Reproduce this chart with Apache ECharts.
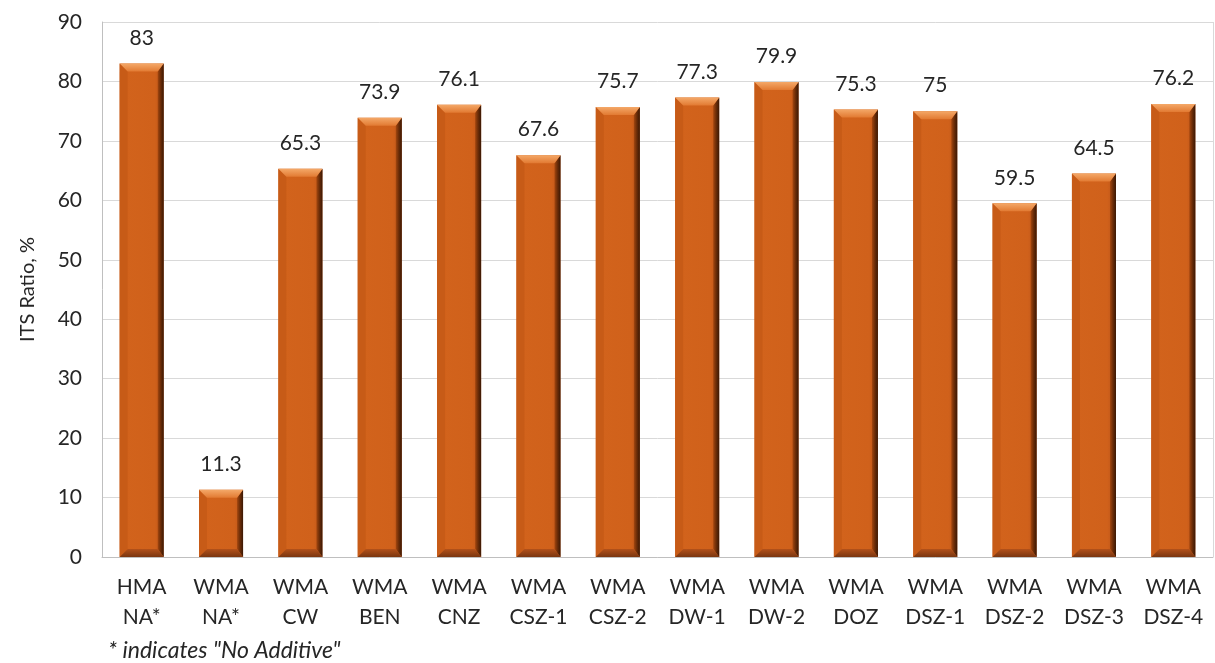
<!DOCTYPE html>
<html>
<head>
<meta charset="utf-8">
<script src="https://cdn.jsdelivr.net/npm/echarts@6/dist/echarts.min.js"></script>
<style>
  html, body { margin: 0; padding: 0; background: #ffffff; }
  #chart { width: 1215px; height: 663px; }
</style>
</head>
<body>
<div id="chart"></div>
<script>
// Mix categories and ITS ratio values
const categories = [
  'HMA\nNA*', 'WMA\nNA*', 'WMA\nCW', 'WMA\nBEN', 'WMA\nCNZ', 'WMA\nCSZ-1', 'WMA\nCSZ-2',
  'WMA\nDW-1', 'WMA\nDW-2', 'WMA\nDOZ', 'WMA\nDSZ-1', 'WMA\nDSZ-2', 'WMA\nDSZ-3', 'WMA\nDSZ-4'
];
const itsRatio = [83, 11.3, 65.3, 73.9, 76.1, 67.6, 75.7, 77.3, 79.9, 75.3, 75, 59.5, 64.5, 76.2];
const yTicks = { min: 0, max: 90, interval: 10 };

const FONT = 'Lato, "Liberation Sans", sans-serif';
const TEXT = '#262626';

// Bevelled bar: flat face, lit top edge, shaded right and bottom edges
function renderBevelBar(params, api) {
  const idx = api.value(0);
  const val = api.value(1);
  const top = api.coord([idx, val]);
  const base = api.coord([idx, 0]);
  const bw = api.size([1, 0])[0] * 0.555;
  const x0 = top[0] - bw / 2, x1 = top[0] + bw / 2;
  const y0 = top[1], y1 = base[1];
  const b = Math.min(8, (y1 - y0) / 2);
  const r = 6;
  return {
    type: 'group',
    children: [
      { type: 'rect', shape: { x: x0, y: y0, width: bw, height: y1 - y0 },
        style: { fill: new echarts.graphic.LinearGradient(0, 0, 1, 0, [
          { offset: 0, color: '#c65a18' },
          { offset: 0.1, color: '#d2631c' },
          { offset: 0.8, color: '#d0611b' },
          { offset: 1, color: '#b8521a' }
        ]) } },
      // left edge
      { type: 'polygon', shape: { points: [[x0, y0], [x0 + b, y0 + b], [x0 + b, y1 - b], [x0, y1]] },
        style: { fill: '#c75b17' } },
      // right edge
      { type: 'polygon', shape: { points: [[x1, y0], [x1, y1], [x1 - r, y1 - b], [x1 - r, y0 + b]] },
        style: { fill: new echarts.graphic.LinearGradient(0, 0, 1, 0, [
          { offset: 0, color: '#a4470f' },
          { offset: 0.5, color: '#6a2c08' },
          { offset: 1, color: '#3a1804' }
        ]) } },
      // top edge
      { type: 'polygon', shape: { points: [[x0, y0], [x1, y0], [x1 - r, y0 + b], [x0 + b, y0 + b]] },
        style: { fill: new echarts.graphic.LinearGradient(0, 0, 0, 1, [
          { offset: 0, color: '#f4a868' },
          { offset: 1, color: '#e27a32' }
        ]) } },
      // bottom edge
      { type: 'polygon', shape: { points: [[x0, y1], [x1, y1], [x1 - r, y1 - b], [x0 + b, y1 - b]] },
        style: { fill: new echarts.graphic.LinearGradient(0, 0, 0, 1, [
          { offset: 0, color: '#b3511a' },
          { offset: 1, color: '#7a3610' }
        ]) } },
      // value label
      { type: 'text', style: { text: String(val), x: top[0], y: y0 - 15,
        align: 'center', verticalAlign: 'bottom', fill: TEXT, font: '21px ' + FONT } }
    ]
  };
}

const chart = echarts.init(document.getElementById('chart'), null, { renderer: 'canvas' });
chart.setOption({
  animation: false,
  backgroundColor: '#ffffff',
  grid: { left: 102, right: 2, top: 22, bottom: 106 },
  xAxis: {
    type: 'category',
    data: categories,
    axisLine: { show: true, lineStyle: { color: '#bfbfbf', width: 1 } },
    axisTick: { show: false },
    axisLabel: { color: TEXT, fontFamily: FONT, fontSize: 21, lineHeight: 30, margin: 15, interval: 0 }
  },
  yAxis: {
    type: 'value',
    min: yTicks.min, max: yTicks.max, interval: yTicks.interval,
    name: 'ITS Ratio, %',
    nameLocation: 'middle',
    nameGap: 64,
    nameTextStyle: { color: TEXT, fontFamily: FONT, fontSize: 20 },
    axisLine: { show: true, lineStyle: { color: '#bfbfbf', width: 1 } },
    axisTick: { show: false },
    axisLabel: { color: TEXT, fontFamily: FONT, fontSize: 21, margin: 20 },
    splitLine: { show: true, lineStyle: { color: '#d9d9d9', width: 1 } }
  },
  series: [{
    type: 'custom',
    renderItem: renderBevelBar,
    encode: { x: 0, y: 1 },
    data: itsRatio.map((v, i) => [i, v])
  }],
  graphic: [
    { type: 'rect', shape: { x: 1213, y: 22, width: 1, height: 535 }, style: { fill: '#d9d9d9' } },
    { type: 'text', left: 108, top: 639,
      style: { text: '* indicates "No Additive"', fill: TEXT, font: 'italic 23px ' + FONT } }
  ]
});
</script>
</body>
</html>
